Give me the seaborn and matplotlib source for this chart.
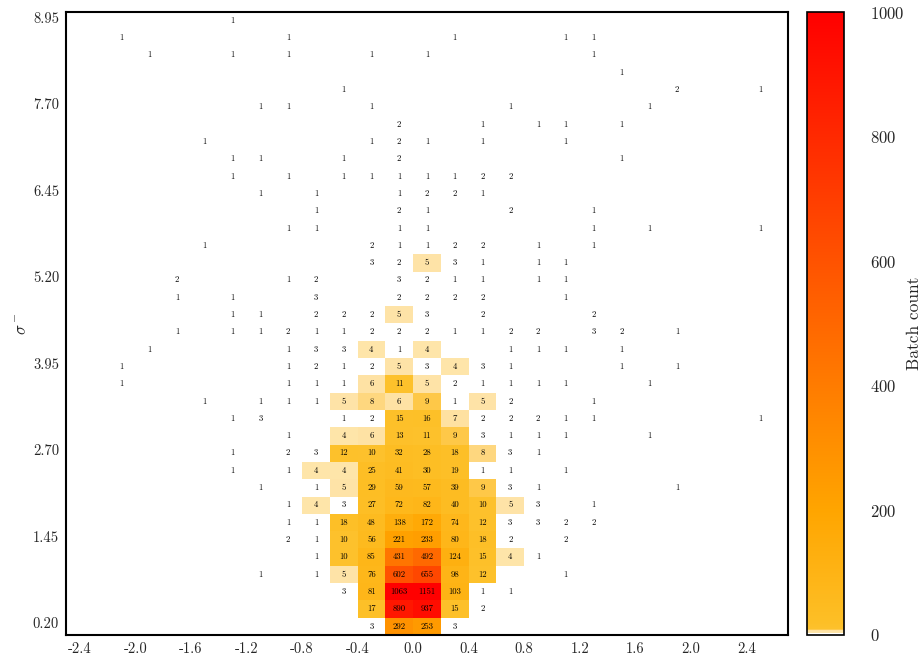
import numpy as np
import pandas as pd
import matplotlib
matplotlib.use("Agg")
import matplotlib.pyplot as plt
from matplotlib.colors import LinearSegmentedColormap
import seaborn as sns

# bin grid (x: 0.2 wide, y: 0.25 tall), rows listed top -> bottom
x_centers = np.round(np.arange(-2.3, 2.55, 0.2), 1)
y_centers = np.round(np.arange(8.925, 0.1, -0.25), 3)
x_ticks = [-2.4, -2.0, -1.6, -1.2, -0.8, -0.4, 0.0, 0.4, 0.8, 1.2, 1.6, 2.0, 2.4]
y_ticks = [0.20, 1.45, 2.70, 3.95, 5.20, 6.45, 7.70, 8.95]
cbar_ticks = [0, 200, 400, 600, 800, 1000]

counts = [
    [0,0,0,0,0,1,0,0,0,0,0,0,0,0,0,0,0,0,0,0,0,0,0,0,0],
    [0,1,0,0,0,0,0,1,0,0,0,0,0,1,0,0,0,1,1,0,0,0,0,0,0],
    [0,0,1,0,0,1,0,1,0,0,1,0,1,0,0,0,0,0,1,0,0,0,0,0,0],
    [0,0,0,0,0,0,0,0,0,0,0,0,0,0,0,0,0,0,0,1,0,0,0,0,0],
    [0,0,0,0,0,0,0,0,0,1,0,0,0,0,0,0,0,0,0,0,0,2,0,0,1],
    [0,0,0,0,0,0,1,1,0,0,1,0,0,0,0,1,0,0,0,0,1,0,0,0,0],
    [0,0,0,0,0,0,0,0,0,0,0,2,0,0,1,0,1,1,0,1,0,0,0,0,0],
    [0,0,0,0,1,0,0,0,0,0,1,2,1,0,1,0,0,1,0,0,0,0,0,0,0],
    [0,0,0,0,0,1,1,0,0,1,0,2,0,0,0,0,0,0,0,1,0,0,0,0,0],
    [0,0,0,0,0,1,0,1,0,1,1,1,1,1,2,2,0,0,0,0,0,0,0,0,0],
    [0,0,0,0,0,0,1,0,1,0,0,1,2,2,1,0,0,0,0,0,0,0,0,0,0],
    [0,0,0,0,0,0,0,0,1,0,0,2,1,0,0,2,0,0,1,0,0,0,0,0,0],
    [0,0,0,0,0,0,0,1,1,0,0,1,1,0,0,0,0,0,1,0,1,0,0,0,1],
    [0,0,0,0,1,0,0,0,0,0,2,1,1,2,2,0,1,0,1,0,0,0,0,0,0],
    [0,0,0,0,0,0,0,0,0,0,3,2,5,3,1,0,1,1,0,0,0,0,0,0,0],
    [0,0,0,2,0,0,0,1,2,0,0,3,2,1,1,0,1,1,0,0,0,0,0,0,0],
    [0,0,0,1,0,1,0,0,3,0,0,2,2,2,2,0,0,1,0,0,0,0,0,0,0],
    [0,0,0,0,0,1,1,0,2,2,2,5,3,0,2,0,0,0,2,0,0,0,0,0,0],
    [0,0,0,1,0,1,1,2,1,1,2,2,2,1,1,2,2,0,3,2,0,1,0,0,0],
    [0,0,1,0,0,0,0,1,3,3,4,1,4,0,0,1,1,1,0,1,0,0,0,0,0],
    [0,1,0,0,0,0,0,1,2,1,2,5,3,4,3,1,0,0,0,1,0,1,0,0,0],
    [0,1,0,0,0,0,0,1,1,1,6,11,5,2,1,1,1,1,0,0,1,0,0,0,0],
    [0,0,0,0,1,0,1,1,1,5,8,6,9,1,5,2,0,0,1,0,0,0,0,0,0],
    [0,0,0,0,0,1,3,0,0,1,2,15,16,7,2,2,2,1,1,0,0,0,0,0,1],
    [0,0,0,0,0,0,0,1,0,4,6,13,11,9,3,1,1,1,0,0,1,0,0,0,0],
    [0,0,0,0,0,1,0,2,3,12,10,32,28,18,8,3,1,0,0,0,0,0,0,0,0],
    [0,0,0,0,0,1,0,1,4,4,25,41,30,19,1,1,0,1,0,0,0,0,0,0,0],
    [0,0,0,0,0,0,1,0,1,5,29,59,57,39,9,3,1,0,0,0,0,1,0,0,0],
    [0,0,0,0,0,0,0,1,4,3,27,72,82,40,10,5,3,0,1,0,0,0,0,0,0],
    [0,0,0,0,0,0,0,1,1,18,48,138,172,74,12,3,3,2,2,0,0,0,0,0,0],
    [0,0,0,0,0,0,0,2,1,10,56,221,233,80,18,2,0,2,0,0,0,0,0,0,0],
    [0,0,0,0,0,0,0,0,1,10,85,431,492,124,15,4,1,0,0,0,0,0,0,0,0],
    [0,0,0,0,0,0,1,0,1,5,76,602,655,98,12,0,0,1,0,0,0,0,0,0,0],
    [0,0,0,0,0,0,0,0,0,3,81,1063,1151,103,1,1,0,0,0,0,0,0,0,0,0],
    [0,0,0,0,0,0,0,0,0,0,17,890,937,15,2,0,0,0,0,0,0,0,0,0,0],
    [0,0,0,0,0,0,0,0,0,0,3,292,253,3,0,0,0,0,0,0,0,0,0,0,0],
]

df = pd.DataFrame(counts, index=y_centers, columns=x_centers)
labels = df.map(lambda v: str(v) if v > 0 else "")

sns.set_style("white")
plt.rcParams["font.family"] = "cmr10"
plt.rcParams["mathtext.fontset"] = "cm"
plt.rcParams["axes.unicode_minus"] = False
plt.rcParams["axes.formatter.use_mathtext"] = True

# white for tiny counts, pale band, then gold -> orange -> red
cmap = LinearSegmentedColormap.from_list("batch", [
    (0.0, "#ffffff"), (0.0035, "#ffffff"), (0.0036, "#fee5aa"),
    (0.0075, "#fee0a0"), (0.0085, "#fecb55"), (0.0098, "#fdc12c"),
    (0.02, "#fdbf26"), (0.2, "#ffa500"), (1.0, "#ff0000")], N=8192)

fig = plt.figure(figsize=(9.23, 6.60), dpi=100)
ax = fig.add_axes([0.0715, 0.0379, 0.7822, 0.9439])
cax = fig.add_axes([0.8743, 0.0379, 0.0401, 0.9439])

sns.heatmap(df, ax=ax, cbar_ax=cax, cmap=cmap, vmin=0, vmax=1000,
            annot=labels, fmt="", annot_kws={"fontsize": 6.3, "color": "black"},
            cbar_kws={"ticks": cbar_ticks})

dx = x_centers[1] - x_centers[0]
x0 = x_centers[0] - dx / 2
dy = y_centers[0] - y_centers[1]
ytop = y_centers[0] + dy / 2

ax.set_xticks([(v - x0) / dx for v in x_ticks])
ax.set_xticklabels([f"{v:.1f}" for v in x_ticks], rotation=0)
ax.set_yticks([(ytop - v) / dy for v in y_ticks])
ax.set_yticklabels([f"{v:.2f}" for v in y_ticks], rotation=0)
ax.set_xlim((-2.5 - x0) / dx, (2.7 - x0) / dx)
ax.set_ylim(len(y_centers), 0)
ax.set_xlabel("")
ax.set_ylabel(r"$\sigma^-$", fontsize=12, labelpad=3)
ax.tick_params(length=0, labelsize=10.5, pad=5)
for s in ax.spines.values():
    s.set_visible(True)
    s.set_color("black")
    s.set_linewidth(1.5)

cbar = ax.collections[0].colorbar
cbar.ax.tick_params(length=0, labelsize=12, pad=19)
cbar.set_label("Batch count", fontsize=12.5, labelpad=1)
cbar.outline.set_visible(True)
cbar.outline.set_edgecolor("black")
cbar.outline.set_linewidth(1.2)

fig.savefig("out.png", dpi=100)
